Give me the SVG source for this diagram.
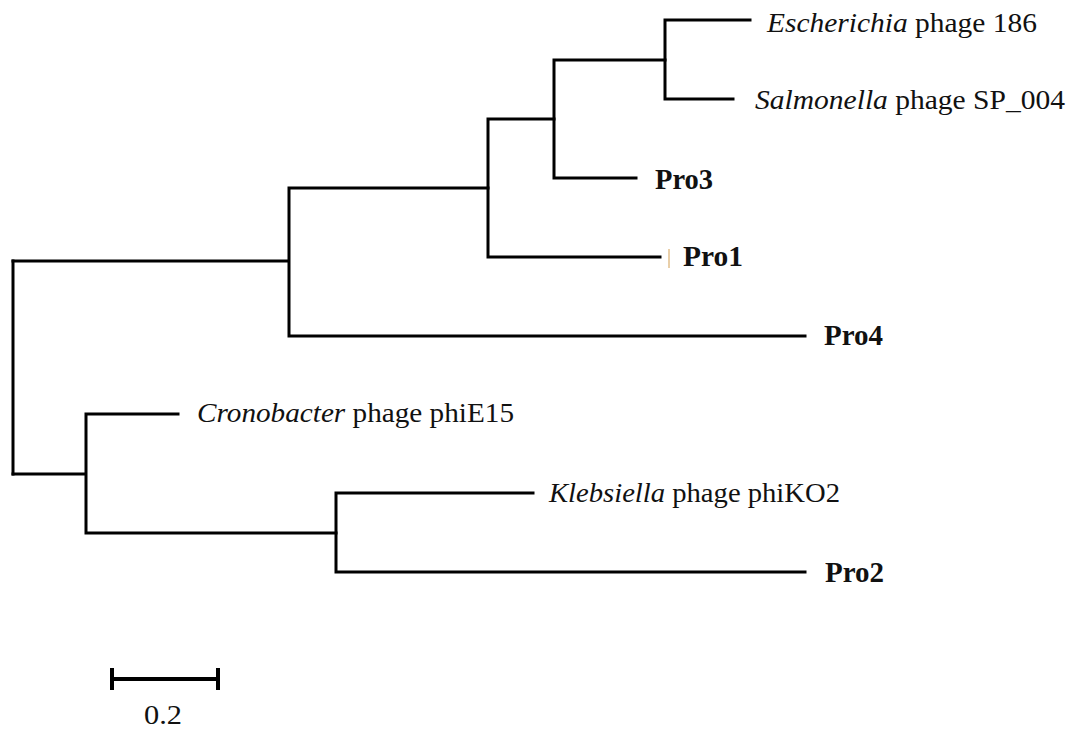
<svg xmlns="http://www.w3.org/2000/svg" width="1073" height="729" viewBox="0 0 1073 729">
<style>
.br{fill:none;stroke:#000;stroke-width:3;stroke-linecap:square;stroke-linejoin:miter}
.lab{font-family:"Liberation Serif","Times New Roman",serif;font-size:28px;fill:#111}
.pro{font-family:"Liberation Serif","Times New Roman",serif;font-size:29px;font-weight:bold;fill:#111}
.it{font-style:italic}
</style>
<rect width="1073" height="729" fill="#fff"/>
<g id="connectors">
<path class="br" d="M13,261 V474"/>
<path class="br" d="M13,261 H289 M289,188 V336 M289,188 H488 M289,336 H805"/>
<path class="br" d="M488,119 V257 M488,119 H554 M488,257 H660"/>
<path class="br" d="M554,60 V178 M554,60 H665 M554,178 H636"/>
<path class="br" d="M665,20 V99 M665,20 H750 M665,99 H733"/>
<path class="br" d="M13,474 H86 M86,414 V533 M86,414 H178 M86,533 H336"/>
<path class="br" d="M336,493 V572 M336,493 H533 M336,572 H805"/>
<line x1="669" y1="249" x2="669" y2="268" stroke="#e2bf8c" stroke-width="1.5"/>
</g>
<g id="leaf-escherichia"><text class="lab" x="767" y="32" textLength="270" lengthAdjust="spacingAndGlyphs"><tspan class="it">Escherichia</tspan> phage 186</text></g>
<g id="leaf-salmonella"><text class="lab" x="755" y="109" textLength="310" lengthAdjust="spacingAndGlyphs"><tspan class="it">Salmonella</tspan> phage SP_004</text></g>
<g id="leaf-pro3"><text class="pro" x="655" y="189" textLength="58" lengthAdjust="spacingAndGlyphs">Pro3</text></g>
<g id="leaf-pro1"><text class="pro" x="683" y="266" textLength="60" lengthAdjust="spacingAndGlyphs">Pro1</text></g>
<g id="leaf-pro4"><text class="pro" x="824" y="345" textLength="59" lengthAdjust="spacingAndGlyphs">Pro4</text></g>
<g id="leaf-cronobacter"><text class="lab" x="197" y="422" textLength="317" lengthAdjust="spacingAndGlyphs"><tspan class="it">Cronobacter</tspan> phage phiE15</text></g>
<g id="leaf-klebsiella"><text class="lab" x="549" y="502" textLength="291" lengthAdjust="spacingAndGlyphs"><tspan class="it">Klebsiella</tspan> phage phiKO2</text></g>
<g id="leaf-pro2"><text class="pro" x="825" y="582" textLength="59" lengthAdjust="spacingAndGlyphs">Pro2</text></g>
<g id="scale-bar">
<path d="M112,679 H218 M112,668 V690 M218,668 V690" fill="none" stroke="#000" stroke-width="4"/>
<text class="lab" x="144" y="724" textLength="38" lengthAdjust="spacingAndGlyphs">0.2</text>
</g>
</svg>
